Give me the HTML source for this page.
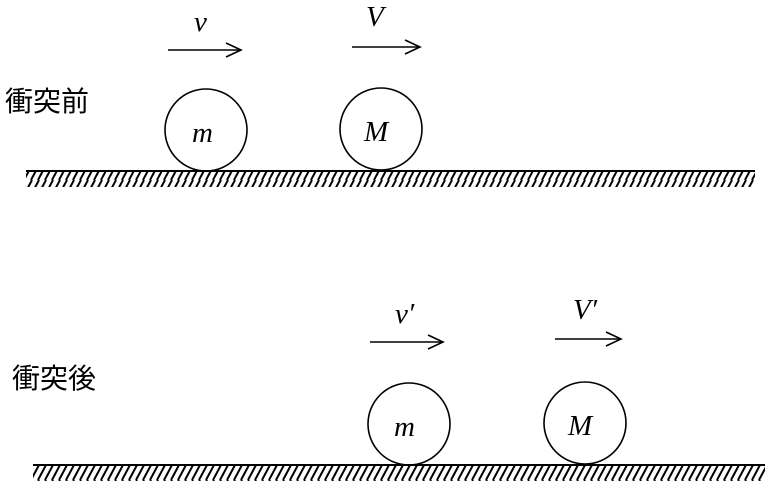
<!DOCTYPE html>
<html><head><meta charset="utf-8"><style>
html,body{margin:0;padding:0;background:#fff;}
svg{display:block;}
.jp{font-family:"Liberation Sans","Noto Sans CJK JP",sans-serif;font-size:28px;}
.it{font-family:"Liberation Serif",serif;font-style:italic;font-size:29px;}
</style></head><body>
<svg width="768" height="487" viewBox="0 0 768 487" xmlns="http://www.w3.org/2000/svg">
<defs>
<pattern id="h" width="7" height="15" patternUnits="userSpaceOnUse">
<line x1="-4" y1="15" x2="4" y2="0" stroke="#000" stroke-width="2"/>
<line x1="3" y1="15" x2="11" y2="0" stroke="#000" stroke-width="2"/>
</pattern>
</defs>
<g fill="none" stroke="#000" stroke-width="1.6">
<rect x="26" y="172" width="729" height="15" fill="url(#h)" stroke="none"/>
<line x1="26" y1="171" x2="755" y2="171" stroke-width="2"/>
<circle cx="206" cy="130" r="41"/>
<circle cx="381" cy="129" r="41"/>
<line x1="168" y1="50" x2="240" y2="50"/>
<polyline points="226,43 241,50 226,57"/>
<line x1="352" y1="47" x2="419" y2="47"/>
<polyline points="405,40 420,47 405,54"/>
<rect x="33" y="466" width="732" height="15" fill="url(#h)" stroke="none"/>
<line x1="33" y1="465" x2="765" y2="465" stroke-width="2"/>
<circle cx="409" cy="424" r="41"/>
<circle cx="585" cy="423" r="41"/>
<line x1="370" y1="342" x2="442" y2="342"/>
<polyline points="428,335 443,342 428,349"/>
<line x1="555" y1="339" x2="620" y2="339"/>
<polyline points="606,332 621,339 606,346"/>
</g>
<text class="jp" x="5" y="111">衝突前</text>
<text class="jp" x="12" y="388">衝突後</text>
<text class="it" x="194" y="31">v</text>
<text class="it" x="366" y="26">V</text>
<text class="it" x="192" y="142">m</text>
<text class="it" x="364" y="141">M</text>
<text class="it" x="395" y="323">v′</text>
<text class="it" x="573" y="319">V′</text>
<text class="it" x="394" y="436">m</text>
<text class="it" x="568" y="435">M</text>
</svg>
</body></html>
